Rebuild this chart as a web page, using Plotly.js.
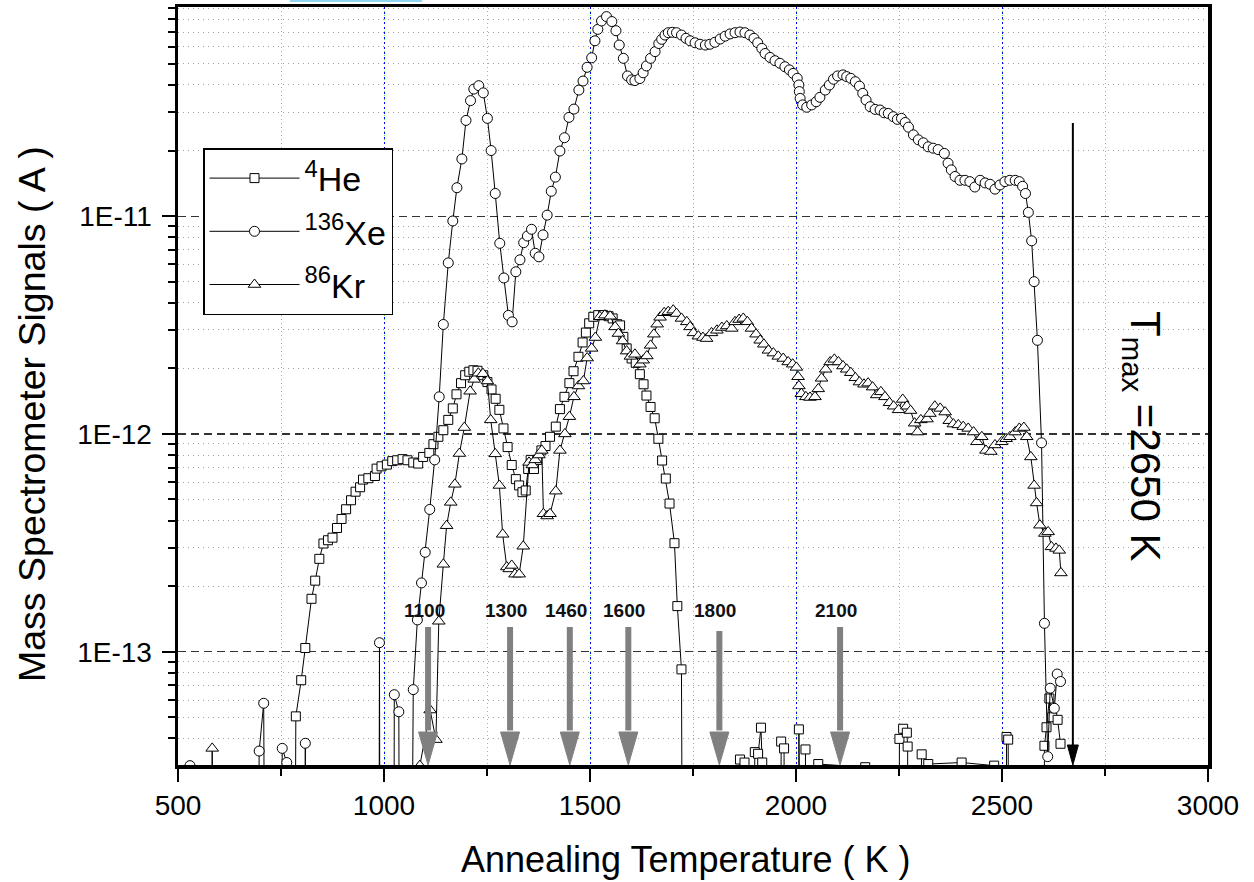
<!DOCTYPE html>
<html>
<head>
<meta charset="utf-8">
<script src="https://cdn.plot.ly/plotly-3.0.1.min.js"></script>
<style>
  html, body { margin: 0; padding: 0; background: #ffffff; }
  #chart { width: 1254px; height: 882px; }
</style>
</head>
<body>
<div id="chart"></div>
<script>
// ---------------- DATA ----------------
// Annealing temperature (K) and mass spectrometer signal (A); 0 = below detection
const heT = [780,786,799,809,824,833,843,853,864,875,886,897,908,920,931,942,949,962,978,982,994,1007,1020,1032,1045,1057,1071,1083,1095,1110,1120,1132,1144,1156,1167,1176,1187,1197,1207,1217,1227,1241,1251,1261,1271,1280,1290,1300,1310,1320,1328,1336,1344,1350,1356,1364,1372,1382,1392,1403,1417,1427,1438,1450,1460,1472,1482,1490,1498,1508,1520,1532,1545,1555,1566,1573,1581,1589,1601,1611,1621,1630,1637,1647,1657,1666,1675,1684,1693,1705,1712,1722,1728,
  1858,1864,1875,1895,1900,1908,1915,1918,1960,1964,1971,1974,2005,2007,2010,2021,2023,2026,2054,2168,2249,2251,2260,2269,2271,2273,2305,2321,2402,2481,2508,2511,2515,2518,2600,2603,2608,2615,2622,2635,2642];
const heV = [0,5.05e-14,7.4e-14,1.04e-13,1.75e-13,2.12e-13,2.67e-13,3.14e-13,3.25e-13,3.34e-13,3.7e-13,4.07e-13,4.51e-13,4.96e-13,5.43e-13,5.69e-13,6.17e-13,6.26e-13,6.41e-13,6.93e-13,7.1e-13,7.23e-13,7.5e-13,7.57e-13,7.66e-13,7.57e-13,7.39e-13,7.31e-13,7.84e-13,8.18e-13,8.97e-13,9.7e-13,1.04e-12,1.16e-12,1.31e-12,1.52e-12,1.71e-12,1.86e-12,1.93e-12,1.96e-12,1.95e-12,1.86e-12,1.73e-12,1.6e-12,1.45e-12,1.29e-12,1.06e-12,8.7e-13,7.2e-13,6.2e-13,5.8e-13,5.4e-13,5.5e-13,6.9e-13,7.6e-13,6.9e-13,7.6e-13,8.4e-13,8.8e-13,9.7e-13,1.08e-12,1.3e-12,1.48e-12,1.71e-12,1.94e-12,2.26e-12,2.63e-12,2.92e-12,3.22e-12,3.45e-12,3.51e-12,3.51e-12,3.47e-12,3.39e-12,3.19e-12,3.15e-12,2.79e-12,2.47e-12,2.22e-12,2.12e-12,1.88e-12,1.69e-12,1.5e-12,1.33e-12,1.18e-12,9.5e-13,7.55e-13,6.24e-13,4.79e-13,3.15e-13,1.62e-13,8.3e-14,0,
  0,3.2e-14,3.1e-14,0,3.46e-14,3.4e-14,4.48e-14,3.1e-14,0,3.87e-14,3.6e-14,0,0,4.4e-14,0,0,3.56e-14,0,3.05e-14,2.95e-14,0,3.98e-14,4.43e-14,4.25e-14,3.67e-14,0,3.38e-14,3.05e-14,3.1e-14,3.0e-14,0,4.06e-14,3.95e-14,0,0,3.7e-14,4.5e-14,6.1e-14,5.0e-14,4.87e-14,3.78e-14];

const xeT = [529,540,690,697,708,715,748,753,764,770,806,809,812,986,989,992,1022,1025,1036,1040,1061,1071,1081,1091,1100,1111,1123,1134,1144,1156,1167,1177,1189,1199,1210,1218,1230,1241,1251,1260,1270,1281,1291,1302,1311,1320,1330,1339,1348,1358,1367,1376,1386,1396,1406,1416,1427,1438,1449,1461,1473,1483,1493,1504,1512,1519,1528,1540,1553,1563,1571,1581,1591,1601,1609,1621,1629,1637,1647,1658,1667,1674,1682,1690,1700,1710,1722,1733,1743,1755,1767,1780,1791,1803,1816,1828,1840,1852,1864,1876,1888,1898,1907,1917,1925,1937,1949,1961,1973,1984,1993,2003,2007,2008,2010,2016,2026,2038,2049,2058,2071,2081,2091,2101,2114,2123,2133,2144,2154,2162,2170,2180,2192,2204,2214,2224,2236,2246,2256,2265,2273,2285,2297,2309,2321,2333,2345,2360,2369,2377,2386,2398,2410,2422,2434,2447,2459,2471,2483,2495,2507,2519,2532,2542,2550,2557,2564,2572,2578,2586,2596,2603,2611,2617,2627,2634,2642];
const xeV = [3.0e-14,0,0,3.5e-14,5.8e-14,0,0,3.6e-14,3.1e-14,0,0,3.8e-14,0,0,1.1e-13,0,0,6.35e-14,5.3e-14,0,0,6.7e-14,1.4e-13,2.07e-13,2.86e-13,4.5e-13,7.6e-13,1.48e-12,3.18e-12,6.1e-12,9.5e-12,1.35e-11,1.83e-11,2.75e-11,3.39e-11,3.83e-11,3.97e-11,3.68e-11,2.81e-11,2.0e-11,1.27e-11,7.5e-12,5.2e-12,3.5e-12,3.27e-12,5.55e-12,6.3e-12,7.55e-12,8.1e-12,8.7e-12,6.75e-12,6.5e-12,8.2e-12,1.01e-11,1.3e-11,1.51e-11,1.99e-11,2.29e-11,2.84e-11,3.1e-11,3.79e-11,4.17e-11,4.82e-11,5.33e-11,6.38e-11,7.2e-11,7.87e-11,8.24e-11,7.82e-11,7.1e-11,6.1e-11,5.3e-11,4.4e-11,4.22e-11,4.19e-11,4.28e-11,4.55e-11,4.89e-11,5.3e-11,5.69e-11,6.2e-11,6.48e-11,6.78e-11,6.95e-11,6.98e-11,6.95e-11,6.78e-11,6.55e-11,6.38e-11,6.25e-11,6.15e-11,6.1e-11,6.15e-11,6.28e-11,6.5e-11,6.7e-11,6.86e-11,6.95e-11,7.0e-11,6.95e-11,6.78e-11,6.55e-11,6.25e-11,5.89e-11,5.58e-11,5.35e-11,5.17e-11,5.03e-11,4.85e-11,4.69e-11,4.52e-11,4.29e-11,4.0e-11,3.73e-11,3.47e-11,3.24e-11,3.16e-11,3.24e-11,3.35e-11,3.51e-11,3.79e-11,4.0e-11,4.25e-11,4.4e-11,4.45e-11,4.37e-11,4.29e-11,4.14e-11,3.95e-11,3.66e-11,3.41e-11,3.18e-11,3.09e-11,3.07e-11,2.98e-11,2.96e-11,2.86e-11,2.78e-11,2.81e-11,2.69e-11,2.56e-11,2.36e-11,2.24e-11,2.17e-11,2.08e-11,2.05e-11,2.02e-11,1.94e-11,1.75e-11,1.63e-11,1.52e-11,1.46e-11,1.46e-11,1.44e-11,1.36e-11,1.46e-11,1.42e-11,1.4e-11,1.33e-11,1.39e-11,1.44e-11,1.46e-11,1.46e-11,1.44e-11,1.37e-11,1.27e-11,1.04e-11,7.7e-12,5.0e-12,2.69e-12,9.1e-13,1.35e-13,3.3e-14,6.8e-14,5.5e-14,7.9e-14,7.3e-14];

const krT = [575,583,590,1080,1087,1112,1126,1133,1144,1152,1162,1172,1183,1195,1209,1219,1229,1240,1251,1259,1270,1280,1288,1298,1304,1310,1318,1328,1338,1352,1360,1367,1376,1383,1387,1396,1403,1417,1427,1439,1450,1461,1472,1484,1493,1504,1513,1524,1536,1549,1561,1569,1579,1589,1598,1609,1621,1629,1638,1647,1655,1663,1670,1680,1690,1702,1710,1722,1735,1743,1751,1763,1774,1783,1795,1808,1820,1832,1844,1852,1862,1872,1882,1892,1903,1913,1922,1933,1945,1957,1969,1981,1992,2001,2005,2007,2013,2024,2034,2046,2054,2062,2072,2083,2093,2103,2114,2123,2133,2144,2154,2165,2175,2186,2196,2206,2216,2227,2237,2249,2259,2269,2278,2288,2295,2303,2318,2325,2337,2350,2362,2372,2382,2394,2406,2418,2431,2439,2451,2461,2473,2483,2499,2510,2519,2532,2542,2553,2560,2570,2578,2584,2592,2604,2612,2620,2631,2639,2643];
const krV = [0,3.6e-14,0,0,3.0e-14,5.4e-14,3.95e-14,1.38e-13,2.52e-13,3.79e-13,4.85e-13,5.87e-13,8.13e-13,1.07e-12,1.57e-12,1.78e-12,1.9e-12,1.89e-12,1.75e-12,1.16e-12,8.1e-13,5.8e-13,3.46e-13,2.45e-13,2.4e-13,2.49e-13,2.27e-13,2.27e-13,3.05e-13,7.4e-13,7.2e-13,7.6e-13,8.0e-13,8.4e-13,4.3e-13,4.2e-13,4.3e-13,5.46e-13,8.4e-13,1.0e-12,1.2e-12,1.48e-12,1.66e-12,1.75e-12,2.23e-12,2.47e-12,2.77e-12,3.45e-12,3.51e-12,3.47e-12,3.1e-12,2.89e-12,2.67e-12,2.4e-12,2.27e-12,2.32e-12,2.09e-12,2.18e-12,2.28e-12,2.55e-12,2.87e-12,3.19e-12,3.43e-12,3.6e-12,3.64e-12,3.7e-12,3.57e-12,3.39e-12,3.27e-12,3.1e-12,2.91e-12,2.81e-12,2.77e-12,2.74e-12,2.91e-12,2.99e-12,3.08e-12,3.13e-12,3.05e-12,3.27e-12,3.35e-12,3.39e-12,3.27e-12,3.05e-12,2.87e-12,2.69e-12,2.58e-12,2.42e-12,2.35e-12,2.27e-12,2.22e-12,2.14e-12,2.09e-12,2.02e-12,1.83e-12,1.66e-12,1.53e-12,1.48e-12,1.47e-12,1.48e-12,1.61e-12,1.8e-12,1.98e-12,2.14e-12,2.2e-12,2.14e-12,2.05e-12,1.98e-12,1.91e-12,1.81e-12,1.73e-12,1.69e-12,1.71e-12,1.64e-12,1.51e-12,1.56e-12,1.48e-12,1.39e-12,1.34e-12,1.29e-12,1.44e-12,1.34e-12,1.28e-12,1.12e-12,1.02e-12,1.16e-12,1.17e-12,1.24e-12,1.34e-12,1.31e-12,1.26e-12,1.15e-12,1.11e-12,1.1e-12,1.08e-12,1.06e-12,1.02e-12,9.2e-13,9.7e-13,8.4e-13,8.3e-13,8.9e-13,9.2e-13,9.5e-13,9.7e-13,1.02e-12,1.06e-12,1.07e-12,9.7e-13,7.84e-13,5.8e-13,4.82e-13,3.81e-13,3.49e-13,3.55e-13,3.03e-13,2.98e-13,2.92e-13,2.3e-13];

const seriesNames = ['<sup>4</sup>He', '<sup>136</sup>Xe', '<sup>86</sup>Kr'];

// Tick labels
const xTickVals = [500, 1000, 1500, 2000, 2500, 3000];
const yTickVals = [1e-13, 1e-12, 1e-11];
const yTickText = ['1E-13', '1E-12', '1E-11'];

// Release-step arrows (position in K and their labels)
const stepArrowT = [1107, 1306, 1451, 1593, 1814, 2107];
const stepLabels = ['1100', '1300', '1460', '1600', '1800', '2100'];

// Maximum temperature marker
const tmaxArrowT = 2672;
const tmaxLabel = 'T<sub>max</sub> =2650 K';

const xTitle = 'Annealing Temperature ( K )';
const yTitle = 'Mass Spectrometer Signals ( A )';

// ---------------- DRAWING ----------------
const FLOOR = 1e-16; // undetectable readings drop to the axis on the log scale
const plotVals = arr => arr.map(v => (v > 0 ? v : FLOOR));

const baseLine = { color: '#000000', width: 1 };
const traces = [
  { x: heT, y: plotVals(heV), name: seriesNames[0], legendgroup: 'he', type: 'scatter', mode: 'lines+markers',
    line: baseLine, marker: { symbol: 'square', size: 9, color: '#ffffff', line: { color: '#000000', width: 1 } } },
  { x: xeT, y: plotVals(xeV), name: seriesNames[1], legendgroup: 'xe', type: 'scatter', mode: 'lines+markers',
    line: baseLine, marker: { symbol: 'circle', size: 10, color: '#ffffff', line: { color: '#000000', width: 1 } } },
  { x: krT, y: plotVals(krV), name: seriesNames[2], legendgroup: 'kr', type: 'scatter', mode: 'lines+markers',
    line: baseLine, marker: { symbol: 'triangle-up', size: 11, color: '#ffffff', line: { color: '#000000', width: 1 } } }
];

// minor log ticks 2..9 of each decade
const yMinor = [];
for (let e = -14; e <= -11; e++) for (let d = 2; d <= 9; d++) yMinor.push(d * Math.pow(10, e));

const L = 178, R = 1208, T = 7, B = 765;
const PW = R - L, PH = B - T;
const pxToPaperY = py => (B - py) / PH;
const pxToPaperX = px => (px - L) / PW;
const kPerPx = 2500 / PW;

const shapes = [];
const annotations = [];

// grey release-step arrows
stepArrowT.forEach((t, i) => {
  const headHalf = 9.5 * kPerPx;
  const headBase = pxToPaperY(732);
  shapes.push({ type: 'line', xref: 'x', yref: 'paper', x0: t, x1: t,
    y0: headBase + 0.002, y1: pxToPaperY(i === 4 ? 631 : 627), line: { color: '#808080', width: 6 }, layer: 'above' });
  shapes.push({ type: 'path', xref: 'x', yref: 'paper', layer: 'above',
    path: `M ${t - headHalf},${headBase} L ${t + headHalf},${headBase} L ${t},${pxToPaperY(765)} Z`,
    fillcolor: '#808080', line: { color: '#808080', width: 1 } });
  annotations.push({ xref: 'x', yref: 'paper', x: t, y: pxToPaperY(610), xshift: -4,
    xanchor: 'center', yanchor: 'middle',
    text: '<b>' + stepLabels[i] + '</b>', showarrow: false, font: { size: 19, color: '#111111' } });
});

// black Tmax arrow
{
  const headHalf = 5.5 * kPerPx;
  const headBase = pxToPaperY(745);
  shapes.push({ type: 'line', xref: 'x', yref: 'paper', x0: tmaxArrowT, x1: tmaxArrowT,
    y0: headBase, y1: pxToPaperY(123), line: { color: '#000000', width: 2 }, layer: 'above' });
  shapes.push({ type: 'path', xref: 'x', yref: 'paper', layer: 'above',
    path: `M ${tmaxArrowT - headHalf},${headBase} L ${tmaxArrowT + headHalf},${headBase} L ${tmaxArrowT},${pxToPaperY(765)} Z`,
    fillcolor: '#000000', line: { color: '#000000', width: 1 } });
}

// small light-blue strip cut off at the top edge
shapes.push({ type: 'rect', xref: 'paper', yref: 'paper', x0: pxToPaperX(290), x1: pxToPaperX(422),
  y0: pxToPaperY(2), y1: pxToPaperY(0), fillcolor: '#8fd6f2', line: { width: 0 } });

annotations.push({ xref: 'paper', yref: 'paper', x: pxToPaperX(1142), y: pxToPaperY(436),
  xanchor: 'center', yanchor: 'middle',
  text: tmaxLabel, textangle: 90, showarrow: false, font: { size: 42, color: '#000000' } });

annotations.push({ xref: 'paper', yref: 'paper', x: pxToPaperX(686), y: pxToPaperY(859),
  xanchor: 'center', yanchor: 'middle',
  text: xTitle, showarrow: false, font: { size: 36, color: '#000000' } });
annotations.push({ xref: 'paper', yref: 'paper', x: pxToPaperX(32), y: pxToPaperY(414),
  xanchor: 'center', yanchor: 'middle',
  text: yTitle, textangle: -90, showarrow: false, font: { size: 37.5, color: '#000000' } });

const layout = {
  width: 1254, height: 882,
  margin: { l: L, r: 1254 - R, t: T, b: 882 - B, pad: 0 },
  paper_bgcolor: '#ffffff', plot_bgcolor: '#ffffff',
  font: { family: 'Arial, "Liberation Sans", sans-serif', color: '#000000' },
  showlegend: true,
  legend: { x: pxToPaperX(203), y: pxToPaperY(148), xanchor: 'left', yanchor: 'top',
    bgcolor: '#ffffff', bordercolor: '#000000', borderwidth: 1.5,
    font: { size: 34, color: '#000000' }, itemwidth: 90, tracegroupgap: 6, traceorder: 'grouped' },
  xaxis: {
    range: [500, 3000], tickmode: 'array', tickvals: xTickVals, ticktext: xTickVals.map(String),
    ticks: 'outside', ticklen: 13, tickwidth: 2, tickcolor: '#000000',
    showline: true, linewidth: 3.5, linecolor: '#000000', mirror: true,
    showgrid: true, gridcolor: '#0000ff', gridwidth: 1, griddash: '2px,3px', zeroline: false,
    tickfont: { size: 28 },
    minor: { tickmode: 'linear', tick0: 500, dtick: 250, ticks: 'outside', ticklen: 7, tickwidth: 2, tickcolor: '#000000',
      showgrid: true, gridcolor: '#66dd66', griddash: '1px,3px', gridwidth: 1 }
  },
  yaxis: {
    type: 'log', range: [-13.52, -10.04], tickmode: 'array', tickvals: yTickVals, ticktext: yTickText,
    ticks: 'outside', ticklen: 13, tickwidth: 2, tickcolor: '#000000', ticklabelstandoff: 4,
    showline: true, linewidth: 3.5, linecolor: '#000000', mirror: true,
    showgrid: true, gridcolor: '#333333', gridwidth: 1.2, griddash: '8px,5px', zeroline: false,
    tickfont: { size: 28 },
    minor: { tickmode: 'array', tickvals: yMinor, ticks: 'outside', ticklen: 7, tickwidth: 2, tickcolor: '#000000',
      showgrid: true, gridcolor: '#a0a0a0', griddash: '1px,4px', gridwidth: 1 }
  },
  shapes: shapes,
  annotations: annotations,
  hovermode: false
};

Plotly.newPlot('chart', traces, layout, { staticPlot: true, displayModeBar: false });
</script>
</body>
</html>
